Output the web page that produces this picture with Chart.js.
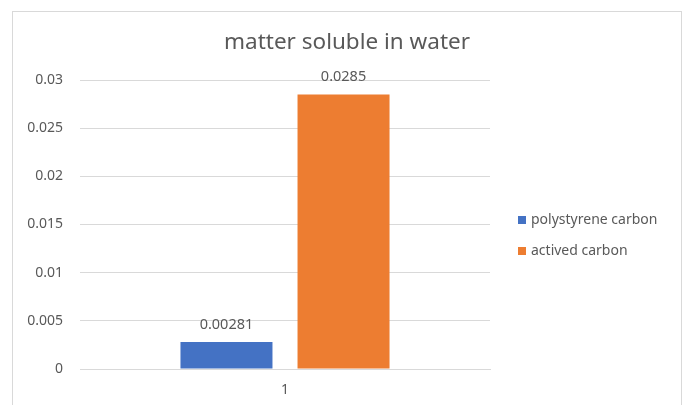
<!DOCTYPE html>
<html>
<head>
<meta charset="utf-8">
<script src="https://cdn.jsdelivr.net/npm/chart.js@4/dist/chart.umd.min.js"></script>
<style>
  html, body { margin: 0; padding: 0; background: #fff; }
  #wrap { width: 684px; height: 405px; }
</style>
</head>
<body>
<div id="wrap"><canvas id="c" width="684" height="405"></canvas></div>
<script>
const chartTitle = 'matter soluble in water';
const categories = ['1'];
const seriesNames = ['polystyrene carbon', 'actived carbon'];
const polystyreneValues = [0.00281];
const activedValues = [0.0285];
const seriesColors = ['#4472C4', '#ED7D31'];
const yTicks = [0, 0.005, 0.01, 0.015, 0.02, 0.025, 0.03];

const FONT = '"Noto Sans", "Open Sans", sans-serif';
const TEXT = '#595959';

// frame, title, value labels and legend
const decorations = {
  id: 'decorations',
  beforeDraw(chart) {
    const ctx = chart.ctx;
    ctx.save();
    ctx.fillStyle = '#fff';
    ctx.fillRect(0, 0, chart.width, chart.height);
    ctx.strokeStyle = '#D9D9D9';
    ctx.lineWidth = 1;
    ctx.strokeRect(12.5, 11.5, 669, 420);
    ctx.restore();
  },
  afterDraw(chart) {
    const ctx = chart.ctx;
    ctx.save();
    ctx.fillStyle = TEXT;
    ctx.textAlign = 'center';
    ctx.textBaseline = 'middle';
    ctx.font = '22.5px ' + FONT;
    ctx.fillText(chartTitle, 347, 43);

    // value labels above each bar
    ctx.font = '14.5px ' + FONT;
    chart.data.datasets.forEach((ds, i) => {
      const meta = chart.getDatasetMeta(i);
      meta.data.forEach((bar, j) => {
        ctx.fillText(String(ds.data[j]), bar.x, bar.y - 17.5);
      });
    });

    // legend on the right
    ctx.font = '14px ' + FONT;
    ctx.textAlign = 'left';
    chart.data.datasets.forEach((ds, i) => {
      const y = 220 + i * 31;
      ctx.fillStyle = ds.backgroundColor;
      ctx.fillRect(518, y - 4, 8, 8);
      ctx.fillStyle = TEXT;
      ctx.fillText(ds.label, 531, y);
    });
    ctx.restore();
  }
};

new Chart(document.getElementById('c'), {
  type: 'bar',
  data: {
    labels: categories,
    datasets: [
      { label: seriesNames[0], data: polystyreneValues, backgroundColor: seriesColors[0] },
      { label: seriesNames[1], data: activedValues, backgroundColor: seriesColors[1] }
    ]
  },
  options: {
    responsive: false,
    animation: false,
    devicePixelRatio: 1,
    layout: { padding: { left: 0, right: 194, top: 80, bottom: 0 } },
    datasets: { bar: { categoryPercentage: 0.571, barPercentage: 0.786 } },
    plugins: {
      legend: { display: false },
      title: { display: false },
      tooltip: { enabled: false }
    },
    scales: {
      x: {
        grid: { display: false, drawTicks: false },
        border: { display: true, color: '#D9D9D9' },
        ticks: { color: TEXT, font: { family: FONT, size: 14 }, padding: 13 },
        afterFit(scale) { scale.height = 36; }
      },
      y: {
        min: 0,
        max: 0.03,
        afterBuildTicks(scale) { scale.ticks = yTicks.map(v => ({ value: v })); },
        grid: { color: '#D9D9D9', drawTicks: false },
        border: { display: false },
        ticks: {
          color: TEXT,
          font: { family: FONT, size: 14 },
          padding: 17,
          callback: v => String(v)
        },
        afterFit(scale) { scale.width = 80; }
      }
    }
  },
  plugins: [decorations]
});
</script>
</body>
</html>
